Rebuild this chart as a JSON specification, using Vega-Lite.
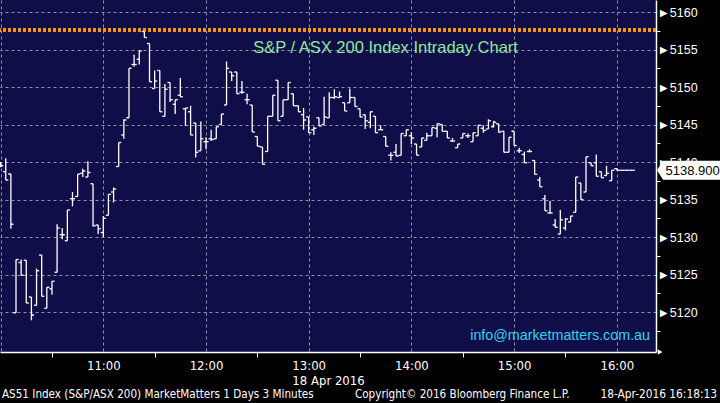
{
 "$schema": "https://vega.github.io/schema/vega-lite/v6.json",
 "width": 656,
 "height": 352,
 "autosize": {"type": "none"},
 "padding": {"left": 0, "top": 0, "right": 64, "bottom": 51},
 "background": "#000000",
 "config": {"view": {"fill": "#0f0e48", "stroke": null}},
 "resolve": {"axis": {"x": "independent", "y": "independent"}},
 "data": {"values": [
  {"t":600,"o":5139.8,"h":5140.0,"l":5139.3,"c":5139.5},
  {"t":603,"o":5138.7,"h":5140.5,"l":5137.6,"c":5137.6},
  {"t":606,"o":5138.4,"h":5138.4,"l":5131.1,"c":5131.7},
  {"t":609,"o":5119.9,"h":5127.0,"l":5119.9,"c":5127.0},
  {"t":612,"o":5126.6,"h":5127.0,"l":5124.9,"c":5124.9},
  {"t":615,"o":5126.9,"h":5126.9,"l":5121.2,"c":5121.2},
  {"t":618,"o":5122.0,"h":5122.0,"l":5118.9,"c":5119.6},
  {"t":621,"o":5120.9,"h":5125.8,"l":5120.9,"c":5125.5},
  {"t":624,"o":5127.6,"h":5127.6,"l":5122.1,"c":5122.1},
  {"t":627,"o":5120.5,"h":5123.3,"l":5120.5,"c":5123.3},
  {"t":630,"o":5123.1,"h":5124.1,"l":5122.3,"c":5124.1},
  {"t":633,"o":5125.3,"h":5131.7,"l":5125.3,"c":5131.2},
  {"t":636,"o":5130.3,"h":5131.2,"l":5129.7,"c":5130.3},
  {"t":639,"o":5129.5,"h":5133.6,"l":5129.5,"c":5133.6},
  {"t":642,"o":5135.1,"h":5136.0,"l":5134.1,"c":5135.1},
  {"t":645,"o":5135.4,"h":5138.4,"l":5135.4,"c":5138.4},
  {"t":648,"o":5138.5,"h":5139.1,"l":5138.0,"c":5138.8},
  {"t":651,"o":5138.0,"h":5140.1,"l":5138.0,"c":5138.6},
  {"t":654,"o":5137.1,"h":5137.1,"l":5131.4,"c":5131.5},
  {"t":657,"o":5131.6,"h":5131.6,"l":5130.4,"c":5131.1},
  {"t":660,"o":5130.6,"h":5132.8,"l":5130.0,"c":5132.5},
  {"t":663,"o":5132.9,"h":5135.7,"l":5132.9,"c":5135.7},
  {"t":666,"o":5136.0,"h":5136.6,"l":5134.6,"c":5136.4},
  {"t":669,"o":5139.4,"h":5142.6,"l":5139.4,"c":5142.6},
  {"t":672,"o":5143.6,"h":5145.7,"l":5143.1,"c":5145.6},
  {"t":675,"o":5145.9,"h":5152.5,"l":5145.9,"c":5152.5},
  {"t":678,"o":5153.0,"h":5154.3,"l":5152.7,"c":5153.0},
  {"t":681,"o":5153.7,"h":5154.8,"l":5153.0,"c":5154.8},
  {"t":684,"o":5157.4,"h":5157.6,"l":5156.6,"c":5156.6},
  {"t":687,"o":5155.8,"h":5155.8,"l":5150.7,"c":5150.7},
  {"t":690,"o":5149.8,"h":5152.2,"l":5149.8,"c":5150.8},
  {"t":693,"o":5152.2,"h":5152.2,"l":5146.7,"c":5146.7},
  {"t":696,"o":5146.1,"h":5150.4,"l":5146.1,"c":5149.7},
  {"t":699,"o":5150.6,"h":5150.6,"l":5148.0,"c":5148.3},
  {"t":702,"o":5147.7,"h":5148.3,"l":5146.4,"c":5148.3},
  {"t":705,"o":5148.9,"h":5151.2,"l":5148.7,"c":5148.7},
  {"t":708,"o":5147.1,"h":5147.2,"l":5144.8,"c":5147.2},
  {"t":711,"o":5146.7,"h":5147.5,"l":5143.6,"c":5143.6},
  {"t":714,"o":5145.2,"h":5145.2,"l":5140.6,"c":5141.3},
  {"t":717,"o":5141.5,"h":5145.4,"l":5141.5,"c":5143.1},
  {"t":720,"o":5142.7,"h":5143.3,"l":5141.7,"c":5142.7},
  {"t":723,"o":5143.1,"h":5144.3,"l":5142.8,"c":5143.0},
  {"t":726,"o":5143.1,"h":5144.7,"l":5143.1,"c":5144.7},
  {"t":729,"o":5145.0,"h":5146.4,"l":5145.0,"c":5146.4},
  {"t":732,"o":5147.6,"h":5153.4,"l":5147.6,"c":5152.5},
  {"t":735,"o":5152.0,"h":5152.0,"l":5150.8,"c":5151.5},
  {"t":738,"o":5152.0,"h":5152.0,"l":5149.1,"c":5149.1},
  {"t":741,"o":5149.3,"h":5150.8,"l":5149.1,"c":5149.3},
  {"t":744,"o":5148.3,"h":5149.1,"l":5147.7,"c":5148.3},
  {"t":747,"o":5147.6,"h":5147.6,"l":5144.0,"c":5144.0},
  {"t":750,"o":5143.4,"h":5143.4,"l":5142.1,"c":5142.1},
  {"t":753,"o":5142.0,"h":5142.0,"l":5139.7,"c":5139.7},
  {"t":756,"o":5141.4,"h":5146.1,"l":5141.4,"c":5146.1},
  {"t":759,"o":5146.1,"h":5148.9,"l":5146.1,"c":5148.9},
  {"t":762,"o":5150.9,"h":5150.9,"l":5145.5,"c":5145.5},
  {"t":765,"o":5146.1,"h":5148.3,"l":5146.1,"c":5148.3},
  {"t":768,"o":5148.3,"h":5150.6,"l":5148.3,"c":5150.6},
  {"t":771,"o":5149.1,"h":5149.1,"l":5147.5,"c":5147.5},
  {"t":774,"o":5147.5,"h":5147.5,"l":5146.7,"c":5146.7},
  {"t":777,"o":5146.3,"h":5147.2,"l":5144.3,"c":5145.6},
  {"t":780,"o":5146.0,"h":5146.0,"l":5143.9,"c":5143.9},
  {"t":783,"o":5144.3,"h":5144.7,"l":5143.6,"c":5144.5},
  {"t":786,"o":5145.9,"h":5145.9,"l":5144.8,"c":5144.8},
  {"t":789,"o":5145.0,"h":5148.7,"l":5145.0,"c":5146.0},
  {"t":792,"o":5145.9,"h":5149.3,"l":5145.9,"c":5148.6},
  {"t":795,"o":5148.6,"h":5149.7,"l":5148.4,"c":5148.7},
  {"t":798,"o":5148.6,"h":5149.4,"l":5148.6,"c":5148.7},
  {"t":801,"o":5147.9,"h":5147.9,"l":5146.8,"c":5146.8},
  {"t":804,"o":5147.9,"h":5149.8,"l":5147.9,"c":5148.6},
  {"t":807,"o":5148.6,"h":5148.6,"l":5147.4,"c":5147.4},
  {"t":810,"o":5147.1,"h":5147.1,"l":5146.0,"c":5146.0},
  {"t":813,"o":5146.3,"h":5146.3,"l":5144.4,"c":5145.5},
  {"t":816,"o":5145.3,"h":5146.7,"l":5144.5,"c":5146.7},
  {"t":819,"o":5146.1,"h":5146.1,"l":5143.9,"c":5143.9},
  {"t":822,"o":5144.3,"h":5144.9,"l":5144.3,"c":5144.3},
  {"t":825,"o":5143.4,"h":5143.4,"l":5142.1,"c":5142.1},
  {"t":828,"o":5140.9,"h":5141.3,"l":5140.2,"c":5140.9},
  {"t":831,"o":5141.3,"h":5142.4,"l":5140.8,"c":5140.8},
  {"t":834,"o":5140.9,"h":5143.8,"l":5140.9,"c":5143.8},
  {"t":837,"o":5143.5,"h":5144.3,"l":5143.5,"c":5144.3},
  {"t":840,"o":5143.5,"h":5144.0,"l":5142.4,"c":5143.2},
  {"t":843,"o":5142.4,"h":5142.4,"l":5140.9,"c":5140.9},
  {"t":846,"o":5142.0,"h":5143.2,"l":5142.0,"c":5143.2},
  {"t":849,"o":5142.9,"h":5143.9,"l":5142.9,"c":5143.5},
  {"t":852,"o":5143.5,"h":5144.6,"l":5143.5,"c":5144.6},
  {"t":855,"o":5144.5,"h":5145.1,"l":5143.3,"c":5145.1},
  {"t":858,"o":5145.0,"h":5145.0,"l":5144.1,"c":5144.1},
  {"t":861,"o":5144.1,"h":5144.1,"l":5143.2,"c":5143.2},
  {"t":864,"o":5142.8,"h":5143.2,"l":5142.7,"c":5142.8},
  {"t":867,"o":5141.9,"h":5142.4,"l":5141.9,"c":5142.4},
  {"t":870,"o":5143.2,"h":5143.8,"l":5143.2,"c":5143.8},
  {"t":873,"o":5143.5,"h":5143.8,"l":5143.2,"c":5143.5},
  {"t":876,"o":5142.7,"h":5143.9,"l":5142.7,"c":5143.9},
  {"t":879,"o":5143.5,"h":5144.9,"l":5143.5,"c":5144.9},
  {"t":882,"o":5144.5,"h":5144.9,"l":5143.9,"c":5144.2},
  {"t":885,"o":5144.4,"h":5145.7,"l":5144.4,"c":5145.5},
  {"t":888,"o":5144.7,"h":5145.5,"l":5144.6,"c":5145.3},
  {"t":891,"o":5145.1,"h":5145.1,"l":5143.9,"c":5144.0},
  {"t":894,"o":5144.1,"h":5144.1,"l":5141.3,"c":5141.3},
  {"t":897,"o":5141.3,"h":5143.3,"l":5141.3,"c":5143.3},
  {"t":900,"o":5144.1,"h":5144.1,"l":5142.2,"c":5142.2},
  {"t":903,"o":5141.5,"h":5141.9,"l":5141.2,"c":5141.5},
  {"t":906,"o":5141.0,"h":5141.4,"l":5139.9,"c":5139.9},
  {"t":909,"o":5141.4,"h":5141.7,"l":5141.3,"c":5141.4},
  {"t":912,"o":5140.2,"h":5140.2,"l":5138.35,"c":5138.35},
  {"t":915,"o":5137.6,"h":5138.0,"l":5136.7,"c":5136.7},
  {"t":918,"o":5135.1,"h":5135.6,"l":5133.5,"c":5133.5},
  {"t":921,"o":5133.2,"h":5134.8,"l":5133.2,"c":5133.2},
  {"t":924,"o":5131.6,"h":5132.4,"l":5131.3,"c":5131.3},
  {"t":927,"o":5130.4,"h":5133.6,"l":5130.4,"c":5132.3},
  {"t":930,"o":5131.2,"h":5132.5,"l":5130.9,"c":5132.4},
  {"t":933,"o":5132.0,"h":5132.8,"l":5132.0,"c":5132.8},
  {"t":936,"o":5133.3,"h":5138.0,"l":5133.3,"c":5138.0},
  {"t":939,"o":5137.2,"h":5137.2,"l":5135.0,"c":5135.0},
  {"t":942,"o":5136.0,"h":5140.7,"l":5136.0,"c":5140.7},
  {"t":945,"o":5139.9,"h":5139.9,"l":5139.5,"c":5139.5},
  {"t":948,"o":5139.9,"h":5141.0,"l":5138.1,"c":5138.1},
  {"t":951,"o":5138.7,"h":5138.7,"l":5137.9,"c":5137.9},
  {"t":954,"o":5138.2,"h":5139.5,"l":5138.2,"c":5138.5},
  {"t":957,"o":5137.5,"h":5138.9,"l":5137.5,"c":5138.9},
  {"t":960,"o":5139.1,"h":5139.2,"l":5138.9,"c":5138.9},
  {"t":963,"o":5138.9,"h":5138.9,"l":5138.9,"c":5138.9},
  {"t":966,"o":5138.9,"h":5138.9,"l":5138.9,"c":5138.9},
  {"t":969,"o":5138.9,"h":5138.9,"l":5138.9,"c":5138.9}
 ]},
 "layer": [
  {
   "mark": {"type": "rule", "color": "#ffffff", "strokeWidth": 1.3},
   "encoding": {
    "x": {"field": "t", "type": "quantitative", "scale": {"domain": [599.65, 982.9], "nice": false, "zero": false},
     "axis": {
      "values": [600, 630, 660, 690, 720, 750, 780, 810, 840, 870, 900, 930, 960],
      "labelExpr": "datum.value % 60 === 0 && datum.value > 600 ? floor(datum.value / 60) + ':00' : ''",
      "title": "18 Apr 2016",
      "grid": true, "gridColor": "#9292a4", "gridDash": [3, 3], "gridWidth": 1,
      "gridOpacity": {"condition": {"test": "datum.value % 60 !== 0", "value": 0}, "value": 1},
      "domainColor": "#ffffff", "domainWidth": 1.5,
      "tickColor": "#ffffff", "tickSize": 5, "tickWidth": 1,
      "tickOpacity": {"condition": {"test": "datum.value % 60 === 0", "value": 0}, "value": 1},
      "labelColor": "#ffffff", "labelFont": "DejaVu Sans Condensed, Liberation Sans", "labelFontSize": 13, "labelPadding": 2,
      "labelFlush": false, "labelOverlap": false,
      "titleColor": "#ffffff", "titleFont": "DejaVu Sans Condensed, Liberation Sans", "titleFontSize": 13, "titleFontWeight": "normal", "titlePadding": 2
     }},
    "y": {"field": "l", "type": "quantitative", "scale": {"domain": [5114.67, 5161.6], "nice": false, "zero": false},
     "axis": {
      "orient": "right",
      "values": [5117.5, 5120, 5122.5, 5125, 5127.5, 5130, 5132.5, 5135, 5137.5, 5140, 5142.5, 5145, 5147.5, 5150, 5152.5, 5155, 5157.5, 5160],
      "labelExpr": "datum.value % 5 === 0 ? '►' + datum.value : ''",
      "title": "",
      "grid": true, "gridColor": "#9292a4", "gridDash": [3, 3], "gridWidth": 1,
      "gridOpacity": {"condition": {"test": "datum.value % 5 !== 0", "value": 0}, "value": 1},
      "domainColor": "#ffffff", "domainWidth": 1.5,
      "tickColor": "#ffffff", "tickSize": 4, "tickWidth": 1,
      "tickOpacity": {"condition": {"test": "datum.value % 5 !== 0", "value": 1}, "value": 0},
      "labelColor": "#ffffff", "labelFont": "Liberation Sans", "labelFontSize": 12.5, "labelPadding": -3,
      "labelFlush": false, "labelOverlap": false
     }},
    "y2": {"field": "h"}
   }
  },
  {
   "mark": {"type": "rule", "color": "#ff9900", "strokeWidth": 2.5, "strokeDash": [2.5, 2.5]},
   "encoding": {
    "y": {"datum": 5157.6, "type": "quantitative", "scale": {"domain": [5114.67, 5161.6], "nice": false, "zero": false}, "axis": null}
   }
  },
  {
   "mark": {"type": "tick", "orient": "horizontal", "size": 2.6, "thickness": 1.3, "xOffset": -1.3, "color": "#ffffff", "opacity": 1},
   "encoding": {
    "x": {"field": "t", "type": "quantitative", "scale": {"domain": [599.65, 982.9], "nice": false, "zero": false}, "axis": null},
    "y": {"field": "o", "type": "quantitative", "scale": {"domain": [5114.67, 5161.6], "nice": false, "zero": false}, "axis": null}
   }
  },
  {
   "mark": {"type": "tick", "orient": "horizontal", "size": 2.6, "thickness": 1.3, "xOffset": 1.3, "color": "#ffffff", "opacity": 1},
   "encoding": {
    "x": {"field": "t", "type": "quantitative", "scale": {"domain": [599.65, 982.9], "nice": false, "zero": false}, "axis": null},
    "y": {"field": "c", "type": "quantitative", "scale": {"domain": [5114.67, 5161.6], "nice": false, "zero": false}, "axis": null}
   }
  },
  {
   "data": {"values": [{"label": "S&P / ASX 200 Index Intraday Chart"}]},
   "mark": {"type": "text", "font": "Liberation Sans", "fontSize": 16.5, "color": "#8fe89a", "align": "center", "baseline": "alphabetic"},
   "encoding": {
    "x": {"datum": 824.9, "type": "quantitative", "scale": {"domain": [599.65, 982.9], "nice": false, "zero": false}, "axis": null},
    "y": {"datum": 5154.6, "type": "quantitative", "scale": {"domain": [5114.67, 5161.6], "nice": false, "zero": false}, "axis": null},
    "text": {"field": "label"}
   }
  },
  {
   "data": {"values": [{"label": "info@marketmatters.com.au"}]},
   "mark": {"type": "text", "font": "Liberation Sans", "fontSize": 14.3, "color": "#2fd5ea", "align": "right", "baseline": "alphabetic"},
   "encoding": {
    "x": {"datum": 979.4, "type": "quantitative", "scale": {"domain": [599.65, 982.9], "nice": false, "zero": false}, "axis": null},
    "y": {"datum": 5116.27, "type": "quantitative", "scale": {"domain": [5114.67, 5161.6], "nice": false, "zero": false}, "axis": null},
    "text": {"field": "label"}
   }
  },
  {
   "data": {"values": [{"label": "AS51 Index (S&P/ASX 200) MarketMatters 1 Days 3 Minutes"}]},
   "mark": {"type": "text", "font": "DejaVu Sans Condensed, Liberation Sans", "fontSize": 11.6, "color": "#ffffff", "align": "left", "baseline": "alphabetic"},
   "encoding": {
    "x": {"datum": 600.8, "type": "quantitative", "scale": {"domain": [599.65, 982.9], "nice": false, "zero": false}, "axis": null},
    "y": {"datum": 5108.53, "type": "quantitative", "scale": {"domain": [5114.67, 5161.6], "nice": false, "zero": false}, "axis": null},
    "text": {"field": "label"}
   }
  },
  {
   "data": {"values": [{"label": "Copyright© 2016 Bloomberg Finance L.P."}]},
   "mark": {"type": "text", "font": "DejaVu Sans Condensed, Liberation Sans", "fontSize": 11.6, "color": "#ffffff", "align": "left", "baseline": "alphabetic"},
   "encoding": {
    "x": {"datum": 807.0, "type": "quantitative", "scale": {"domain": [599.65, 982.9], "nice": false, "zero": false}, "axis": null},
    "y": {"datum": 5108.53, "type": "quantitative", "scale": {"domain": [5114.67, 5161.6], "nice": false, "zero": false}, "axis": null},
    "text": {"field": "label"}
   }
  },
  {
   "data": {"values": [{"label": "18-Apr-2016 16:18:13"}]},
   "mark": {"type": "text", "font": "DejaVu Sans Condensed, Liberation Sans", "fontSize": 11.8, "color": "#ffffff", "align": "right", "baseline": "alphabetic"},
   "encoding": {
    "x": {"datum": 1018.55, "type": "quantitative", "scale": {"domain": [599.65, 982.9], "nice": false, "zero": false}, "axis": null},
    "y": {"datum": 5108.53, "type": "quantitative", "scale": {"domain": [5114.67, 5161.6], "nice": false, "zero": false}, "axis": null},
    "text": {"field": "label"}
   }
  },
  {
   "data": {"values": [{"label": "5138.900"}]},
   "mark": {"type": "point", "shape": "M -1 0 L -0.8125 -0.297 L 1 -0.297 L 1 0.297 L -0.8125 0.297 Z", "size": 4096, "filled": true, "color": "#ffffff", "opacity": 1},
   "encoding": {
    "x": {"datum": 1002.2, "type": "quantitative", "scale": {"domain": [599.65, 982.9], "nice": false, "zero": false}, "axis": null},
    "y": {"datum": 5138.9, "type": "quantitative", "scale": {"domain": [5114.67, 5161.6], "nice": false, "zero": false}, "axis": null}
   }
  },
  {
   "data": {"values": [{"label": "5138.900"}]},
   "mark": {"type": "text", "font": "Liberation Sans", "fontSize": 13, "color": "#000000", "align": "left", "baseline": "alphabetic"},
   "encoding": {
    "x": {"datum": 988.45, "type": "quantitative", "scale": {"domain": [599.65, 982.9], "nice": false, "zero": false}, "axis": null},
    "y": {"datum": 5138.23, "type": "quantitative", "scale": {"domain": [5114.67, 5161.6], "nice": false, "zero": false}, "axis": null},
    "text": {"field": "label"}
   }
  },
  {
   "data": {"values": [{"label": "axis end"}]},
   "mark": {"type": "point", "shape": "triangle-right", "size": 30, "filled": true, "color": "#ffffff", "opacity": 1},
   "encoding": {
    "x": {"datum": 985.3, "type": "quantitative", "scale": {"domain": [599.65, 982.9], "nice": false, "zero": false}, "axis": null},
    "y": {"datum": 5114.67, "type": "quantitative", "scale": {"domain": [5114.67, 5161.6], "nice": false, "zero": false}, "axis": null}
   }
  }
 ]
}
